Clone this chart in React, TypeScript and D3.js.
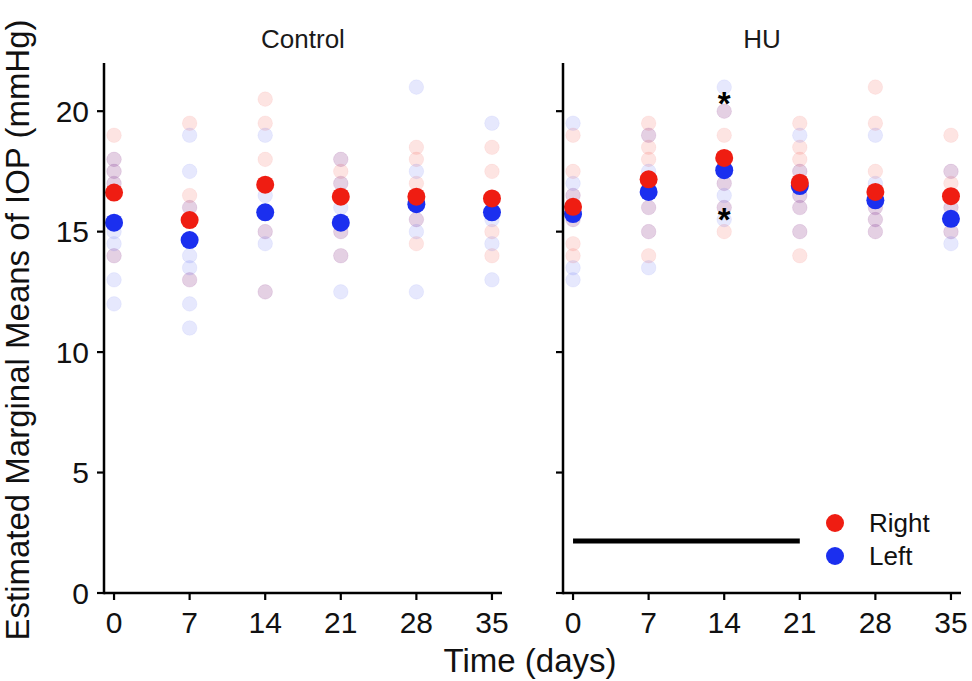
import React from 'react';
import * as d3 from 'd3';

// IOP estimated marginal means, per eye, faceted by group
const days = [0, 7, 14, 21, 28, 35];
const yTicks = [0, 5, 10, 15, 20];
const panels = ['Control', 'HU'];

// estimated marginal means (mmHg)
const controlRightMean = [16.62, 15.48, 16.95, 16.45, 16.45, 16.38];
const controlLeftMean = [15.37, 14.65, 15.8, 15.37, 16.14, 15.8];
const huRightMean = [16.03, 17.17, 18.06, 17.03, 16.65, 16.47];
const huLeftMean = [15.73, 16.65, 17.55, 16.89, 16.3, 15.53];

// individual eye readings, one list per day
const controlRightRaw = [
  [19, 18, 17.5, 17, 14],
  [19.5, 16.5, 16, 13],
  [20.5, 19.5, 18, 15, 12.5],
  [18, 17.5, 17, 15, 14],
  [18.5, 18, 17, 15.5, 14.5],
  [18.5, 17.5, 15, 14],
];
const controlLeftRaw = [
  [18, 17.5, 17, 15, 14.5, 14, 13, 12],
  [19, 17.5, 16, 14, 13.5, 13, 12, 11],
  [19, 16.5, 15, 14.5, 12.5],
  [18, 17, 16, 15, 14, 12.5],
  [21, 17.5, 15.5, 15, 12.5],
  [19.5, 15.5, 14.5, 13],
];
const huRightRaw = [
  [19, 17.5, 16.5, 15.5, 14.5, 14],
  [19.5, 19, 18.5, 18, 16, 15, 14],
  [20, 19, 17, 16, 15],
  [19.5, 18.5, 18, 17.5, 16.5, 16, 15, 14],
  [21, 19.5, 17.5, 16, 15.5, 15],
  [19, 17.5, 17, 16, 15],
];
const huLeftRaw = [
  [19.5, 17, 16.5, 15.5, 13.5, 13],
  [19, 17.5, 16, 15, 13.5],
  [21, 20, 17, 16.5, 16, 15.5],
  [19, 17.5, 17, 16.5, 16, 15],
  [19, 17, 16.5, 16, 15.5, 15],
  [17.5, 16, 15.5, 15, 14.5],
];

// significance marks and hindlimb-unloading period (HU panel)
const starDay = [14, 14];
const starValue = [20.45, 15.64];
const huPeriod = [0, 21];
const huPeriodLevel = 2.16;

const legendLabels = ['Right', 'Left'];

const RED = '#EF1D12';
const BLUE = '#1B2FEF';
const FONT = "'Liberation Sans', Arial, Helvetica, sans-serif";

const panelData = [
  { right: controlRightMean, left: controlLeftMean, rRaw: controlRightRaw, lRaw: controlLeftRaw },
  { right: huRightMean, left: huLeftMean, rRaw: huRightRaw, lRaw: huLeftRaw },
];

const W = 972;
const H = 681;
const top = 63;
const bottom = 593;
const panelLeft = [104, 563];
const panelW = 398;

export default function App() {
  const y = d3.scaleLinear().domain([0, 22]).range([bottom, top]);

  return (
    <svg width={W} height={H} style={{ position: 'absolute', left: 0, top: 0, background: '#fff' }}
      fontFamily={FONT}>
      {panels.map((name, pi) => {
        const x = d3.scaleLinear().domain([-0.93, 35.93])
          .range([panelLeft[pi], panelLeft[pi] + panelW]);
        const pd = panelData[pi];
        return (
          <g key={name}>
            <text x={(panelLeft[pi] + panelLeft[pi] + panelW) / 2} y={48} textAnchor="middle"
              fontSize={26} fill="#1a1a1a">{name}</text>

            {/* raw readings */}
            {days.map((d, di) => (
              <g key={'raw' + d}>
                {pd.rRaw[di].map((v, k) => (
                  <circle key={'r' + k} cx={x(d)} cy={y(v)} r={7.3} fill={RED}
                    fillOpacity={0.12} stroke={RED} strokeOpacity={0.05} />
                ))}
                {pd.lRaw[di].map((v, k) => (
                  <circle key={'l' + k} cx={x(d)} cy={y(v)} r={7.3} fill={BLUE}
                    fillOpacity={0.11} stroke={BLUE} strokeOpacity={0.05} />
                ))}
              </g>
            ))}

            {/* means */}
            {days.map((d, di) => (
              <circle key={'lm' + d} cx={x(d)} cy={y(pd.left[di])} r={9} fill={BLUE} />
            ))}
            {days.map((d, di) => (
              <circle key={'rm' + d} cx={x(d)} cy={y(pd.right[di])} r={9} fill={RED} />
            ))}

            {/* axes */}
            <line x1={panelLeft[pi]} x2={panelLeft[pi]} y1={top} y2={bottom + 1.2}
              stroke="#000" strokeWidth={2.5} />
            <line x1={panelLeft[pi]} x2={panelLeft[pi] + panelW} y1={bottom} y2={bottom}
              stroke="#000" strokeWidth={2.5} />
            {yTicks.map(t => (
              <g key={'yt' + t}>
                <line x1={panelLeft[pi] - 7} x2={panelLeft[pi]} y1={y(t)} y2={y(t)}
                  stroke="#000" strokeWidth={2.2} />
                {pi === 0 && (
                  <text x={panelLeft[pi] - 15} y={y(t)} dy="0.36em" textAnchor="end"
                    fontSize={30} fill="#111">{t}</text>
                )}
              </g>
            ))}
            {days.map(t => (
              <g key={'xt' + t}>
                <line x1={x(t)} x2={x(t)} y1={bottom} y2={bottom + 7}
                  stroke="#000" strokeWidth={2.2} />
                <text x={x(t)} y={633} textAnchor="middle" fontSize={30} fill="#111">{t}</text>
              </g>
            ))}

            {pi === 1 && (
              <g>
                <line x1={x(huPeriod[0])} x2={x(huPeriod[1])} y1={y(huPeriodLevel)}
                  y2={y(huPeriodLevel)} stroke="#000" strokeWidth={5} />
                {starDay.map((d, si) => (
                  <text key={'s' + si} x={x(d)} y={y(starValue[si]) + 15} textAnchor="middle"
                    fontSize={33} fontWeight="bold" fill="#000">*</text>
                ))}
                {legendLabels.map((lab, li) => (
                  <g key={lab} transform={`translate(835,${523 + li * 33})`}>
                    <circle r={9} fill={li === 0 ? RED : BLUE} />
                    <text x={34} y={0} dy="0.36em" fontSize={26} fill="#111">{lab}</text>
                  </g>
                ))}
              </g>
            )}
          </g>
        );
      })}

      <text transform={`translate(29,330) rotate(-90)`} textAnchor="middle" fontSize={33}
        fill="#111">Estimated Marginal Means of IOP (mmHg)</text>
      <text x={530} y={672} textAnchor="middle" fontSize={33} fill="#111">Time (days)</text>
    </svg>
  );
}
